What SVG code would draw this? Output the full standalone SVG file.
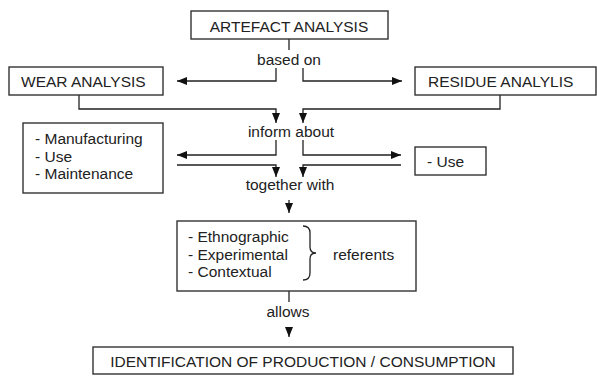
<svg xmlns="http://www.w3.org/2000/svg" width="597" height="376" viewBox="0 0 597 376">
<defs>
<marker id="ah" markerUnits="userSpaceOnUse" markerWidth="10" markerHeight="8" refX="10" refY="4" orient="auto"><path d="M0,0 L10,4 L0,8 z" fill="#111"/></marker>
<style>
.box{fill:#fff;stroke:#333;stroke-width:1.4}
.t{font-family:"Liberation Sans",Arial,sans-serif;font-size:15.5px;fill:#222}
.c{fill:none;stroke:#222;stroke-width:1.3}
.a{marker-end:url(#ah)}
</style>
</defs>
<rect width="597" height="376" fill="#fff"/>
<g id="connectors">
<path class="c" d="M289,39 V50"/>
<path class="c a" d="M276,68 V81 H177"/>
<path class="c a" d="M303,68 V81 H402"/>
<path class="c a" d="M79,95 V109 H276 V123"/>
<path class="c a" d="M500,95 V109 H303 V123"/>
<path class="c a" d="M276,140 V155 H177"/>
<path class="c a" d="M303,140 V155 H401"/>
<path class="c a" d="M177,165 H276 V177"/>
<path class="c a" d="M401,165 H303 V177"/>
<path class="c a" d="M289,200 V213"/>
<path class="c" d="M289,291 V302"/>
<path class="c a" d="M289,327 V337"/>
</g>
<g id="labels">
<text class="t" x="289" y="65" text-anchor="middle">based on</text>
<text class="t" x="291" y="137" text-anchor="middle">inform about</text>
<text class="t" x="290" y="190" text-anchor="middle">together with</text>
<text class="t" x="288" y="317" text-anchor="middle">allows</text>
</g>
<g id="artefact">
<rect class="box" x="191" y="11" width="197" height="28"/>
<text class="t" x="289" y="32" text-anchor="middle">ARTEFACT ANALYSIS</text>
</g>
<g id="wear">
<rect class="box" x="9" y="67" width="154" height="28"/>
<text class="t" x="21" y="87">WEAR ANALYSIS</text>
</g>
<g id="residue">
<rect class="box" x="415" y="67" width="181" height="28"/>
<text class="t" x="428" y="87">RESIDUE ANALYLIS</text>
</g>
<g id="manufacturing">
<rect class="box" x="23" y="123" width="140" height="70"/>
<text class="t" x="35" y="144">- Manufacturing</text>
<text class="t" x="35" y="161.5">- Use</text>
<text class="t" x="35" y="178.5">- Maintenance</text>
</g>
<g id="use">
<rect class="box" x="415" y="147" width="71" height="28"/>
<text class="t" x="427" y="167">- Use</text>
</g>
<g id="referents">
<rect class="box" x="177" y="221" width="239" height="70"/>
<text class="t" x="188" y="242">- Ethnographic</text>
<text class="t" x="188" y="260">- Experimental</text>
<text class="t" x="188" y="277">- Contextual</text>
<path class="c" d="M303,226 Q310,226 310,233 V247 Q310,253 316,253 Q310,253 310,259 V273 Q310,280 303,280"/>
<text class="t" x="333" y="260">referents</text>
</g>
<g id="identification">
<rect class="box" x="93" y="347" width="420" height="27"/>
<text class="t" x="303" y="367" text-anchor="middle">IDENTIFICATION OF PRODUCTION / CONSUMPTION</text>
</g>
</svg>
